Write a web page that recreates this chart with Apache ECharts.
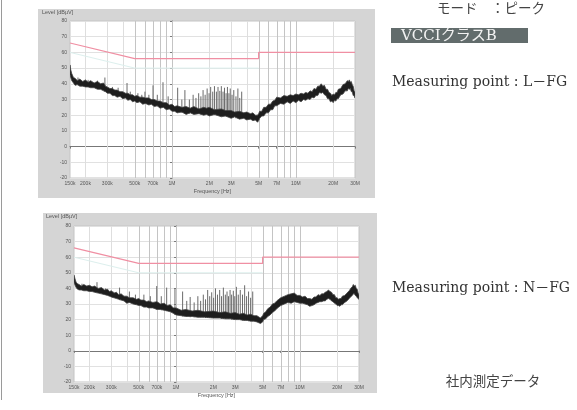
<!DOCTYPE html>
<html><head><meta charset="utf-8">
<script src="https://cdn.jsdelivr.net/npm/echarts@6/dist/echarts.min.js"></script>
<style>html,body{margin:0;padding:0;background:#fff}#c{width:577px;height:410px}</style>
</head><body><div id="c"></div><script>
// Frequencies in MHz, levels in dBµV
const tickFreqs = [0.15,0.2,0.3,0.5,0.7,1,2,3,5,7,10,20,30];
const tickLabels = ['150k','200k','300k','500k','700k','1M','2M','3M','5M','7M','10M','20M','30M'];
const gridFreqsLight = [0.2,0.3,0.4,2,3,4,20];
const gridFreqsDark = [0.5,0.6,0.7,0.8,0.9,1,5,6,7,8,9,10];
const levelMin = -20, levelMax = 80, levelStep = 10;

const limitFreqs = [0.15,0.5,5,5,30];
const limitLevels = [66,56,56,60,60];
const marginFreqs = [0.15,0.5,5];
const marginLevels = [60,50,50];

// Chart 1: L-FG (noise band envelope)
const bandFreq1 = [0.150,0.152,0.155,0.160,0.165,0.172,0.18,0.19,0.20,0.21,
0.22,0.235,0.25,0.265,0.28,0.29,0.30,0.315,0.33,0.345,
0.36,0.38,0.40,0.42,0.44,0.46,0.48,0.50,0.52,0.55,
0.58,0.61,0.65,0.68,0.72,0.76,0.80,0.85,0.90,0.95,
1.0,1.05,1.1,1.2,1.3,1.4,1.5,1.65,1.8,1.9,
2.0,2.2,2.5,2.7,3.0,3.2,3.5,3.8,4.0,4.3,
4.5,4.7,4.9,5.0,5.1,5.3,5.5,5.75,6.0,6.25,
6.5,6.75,7.0,7.5,8.0,8.5,9.0,9.5,10,10.5,
11,11.5,12,12.5,13,13.5,14,14.5,15,15.5,
16,16.5,17,17.5,18,18.5,19,19.5,20,20.5,
21,21.5,22,23,24,25,26,26.5,27,27.5,
28,28.5,29,29.5,30];
const bandHigh1 = [52,49,46.5,44,43.5,42,43,41.5,42.5,41,
42,40.5,41.5,40,40.5,38.5,38,37,37,36,
36,35,35,34,34,33,33,32,32.5,31.5,
31.5,31,31,30,30,29,29,28,28,26.5,
27,25.5,26,25,25.5,24.5,25.5,24,25,24.5,
25,23.5,24,23,23,22,22.5,21.5,22,21,
21.5,20,20,21,22.5,22.5,25,25,27,27,
29,29.5,31.5,31,32.5,32,33,32.5,33.5,33,
34,33.5,34.5,34,35.5,35,37,36.5,38.5,38.5,
40,38.5,39,36.5,36.5,34.5,34,32.5,33.5,33,
34.5,34.5,36.5,37,39.5,40,42,41.5,42.5,41,
41.5,39.5,38.5,35.5,34.5];
const bandLow1 = [46,44,42,40.5,39,39.5,38.5,38.5,38,38,
37.5,37.5,36.5,36.5,35.5,35,34,34,32.5,32.5,
31.5,32,30.5,31,29.5,30,28.5,29,28,28.5,
27,27.5,26.5,27,25.5,26,24.5,25,23.5,24,
22.5,22.5,21.5,22,20.5,21.5,20.5,21,20,20.5,
19.5,20.5,19,19.5,18,19,17.5,18,17,17.5,
16.5,17,15.5,16.5,18,19.5,19.5,21.5,21.5,23.5,
23.5,26,26,27.5,27,28.5,27.5,29,28,29.5,
28.5,30,29.5,30.5,30,31.5,31,32.5,32.5,34.5,
34,34.5,33,32.5,30.5,30.5,28.5,29,28,29.5,
29,30.5,30.5,33,33.5,35.5,35.5,37,36.5,37,
35,35,32.5,32.5,31];
// Chart 1 spikes (peak and base level)
const spikeFreq1 = [0.174,0.21,0.25,0.287,0.33,0.367,0.433,0.46,0.53,0.57,0.604,0.65,0.702,0.76,0.845,0.93,1.11,1.2,1.27,1.38,1.48,1.56,1.64,1.71,1.78,1.85,1.92,1.99,2.05,2.13,2.2,2.28,2.35,2.43,2.5,2.58,2.65,2.73,2.8,2.88,2.95,3.05,3.15,3.28,3.4,3.52,3.65];
const spikePeak1 = [44,42.5,42,44,38,37.5,40.5,35,34,33,35,33,39,33,41,32,37.5,30,36,30,33,31,34,32,36,33,37,34,38,35,38.5,35,38,35.5,38.5,35,37.5,34,38,34,37,33,36,32,37,31,35];
const spikeBase1 = [39,38,37,35,33,32,30.5,30,28.5,28,27.5,27,26.5,25.5,25,24,21.5,21.5,21,21,21,21,21,20.5,20.5,20.5,20.5,20,20,20,20,20,20,19.5,19.5,19.5,19.5,19,19,19,18.5,18.5,18.5,18,18,18,18];

// Chart 2: N-FG
const bandFreq2 = [0.150,0.153,0.156,0.160,0.165,0.172,0.18,0.19,0.20,0.21,
0.22,0.235,0.25,0.265,0.28,0.29,0.30,0.315,0.33,0.345,
0.36,0.38,0.40,0.42,0.45,0.48,0.50,0.52,0.55,0.58,
0.60,0.65,0.70,0.75,0.80,0.85,0.90,0.95,1.0,1.1,
1.2,1.35,1.5,1.7,2.0,2.25,2.5,2.75,3.0,3.25,
3.5,3.75,4.0,4.25,4.5,4.8,5.0,5.1,5.3,5.5,
5.75,6.0,6.25,6.5,6.75,7.0,7.5,8.0,8.5,9.0,
9.5,10,10.5,11,11.5,12,12.5,13,13.5,14,
14.5,15,15.5,16,16.5,17,17.5,18,18.5,19,
19.5,20,20.5,21,21.5,22,23,24,25,26,
26.5,27,27.5,28,28.5,29,29.5,30];
const bandHigh2 = [48.5,46,44,43,42.5,41.5,42.5,41.5,42,41,
41.5,40,40.5,39,39.5,38,38.5,37,37.5,36,
36.5,35,35,34,34,33,33.5,32.5,32.5,31.5,
32,31,31.5,30,30.5,29,29.5,27.5,27.5,26,
26.5,25.5,26,25,25.5,24.5,25,24,24.5,23.5,
24,23,23.5,22.5,22.5,21,22.5,24,25,27,
28,30,30.5,32,33,34,35,36,36.5,37,
35.5,35.5,34.5,35,33.5,33.5,33,34.5,34.5,36,
35.5,36.5,36.5,37.5,38,39,38,37.5,36,36,
34,34,33,33.5,33.5,35,35.5,37,38.5,40.5,
41,42.5,41.5,42,40,39.5,37,36];
const bandLow2 = [44,42,40.5,39.5,39,39,38.5,38.5,38,38,
37.5,37,36.5,36,35.5,35,34.5,34,33.5,33,
32.5,32,30.5,31,30,29.5,29,29,28,28,
27.5,27.5,26.5,26.5,26,25.5,25,24,23,22.5,
22,22,21.5,21.5,21,21,20.5,20.5,20,20,
19.5,19.5,19,19,18.5,17.5,18.5,20,20.5,22,
23,24.5,25.5,27,28,29,30,31,30.5,31.5,
31,30.5,30.5,30,29.5,28.5,29,29.5,30.5,31,
31.5,31.5,32,32,33,33.5,33,32,31.5,30.5,
30,29,29,28.5,29.5,29.5,31,32,33.5,35,
35.5,36.5,36.5,35.5,35,34,33.5,33];
const spikeFreq2 = [0.174,0.23,0.27,0.31,0.35,0.42,0.47,0.55,0.62,0.698,0.76,0.84,0.98,1.13,1.22,1.30,1.40,1.50,1.58,1.66,1.73,1.80,1.87,1.94,2.01,2.08,2.16,2.25,2.33,2.41,2.5,2.58,2.65,2.73,2.81,2.9,2.98,3.07,3.18,3.3,3.44,3.58,3.71,3.85,4.0,4.16];
const spikePeak2 = [43,44,40,38,40.5,38,36,36,35,41.5,35,40.5,40,38,32,34.5,31,35,32,36,33,39,35,37.5,34,40,36,39,35,40.5,36,38,35,39,36,38.5,35,41,36,39,36,42,35,38,34,38];
const spikeBase2 = [39,37.5,36,34,32.5,31,29.5,28,27.5,26.5,26,25.5,23,22,22,21.5,21.5,21.5,21.5,21.5,21,21,21,21,21,21,21,21,20.5,20.5,20.5,20.5,20.5,20.5,20,20,20,20,20,20,19.5,19.5,19.5,19,19,19];

const L = Math.log10;
const tickLog = tickFreqs.map(L);
function fmtX(v){ for(let i=0;i<tickLog.length;i++){ if(Math.abs(tickLog[i]-v)<1e-6) return tickLabels[i]; } return ''; }

function xAxisOpt(idx){
  return {type:'value', gridIndex:idx, min:L(0.15), max:L(30),
    name:'Frequency [Hz]', nameLocation:'middle', nameGap:10,
    nameTextStyle:{fontSize:5.5, color:'#555', fontFamily:'Liberation Sans'},
    axisLine:{show:true, lineStyle:{color:'#777', width:1}},
    axisTick:{show:true, length:2, customValues:tickLog, lineStyle:{color:'#777'}},
    axisLabel:{show:true, customValues:tickLog, formatter:fmtX, fontSize:5, margin:3, color:'#555', fontFamily:'Liberation Sans'},
    splitLine:{show:false}};
}
function yAxisOpt(idx){
  return {type:'value', gridIndex:idx, min:levelMin, max:levelMax, interval:levelStep,
    axisLine:{show:true, lineStyle:{color:'#777', width:1}},
    axisTick:{show:true, length:2, lineStyle:{color:'#777'}},
    axisLabel:{fontSize:5, margin:3, color:'#555', fontFamily:'Liberation Sans'},
    splitLine:{show:true, lineStyle:{color:'#e1e1e1', width:1}}};
}
function vGridSeries(idx, freqs, color){
  return {type:'custom', xAxisIndex:idx, yAxisIndex:idx, z:1, silent:true,
    data: freqs.map(f=>[L(f)]),
    renderItem:(params, api)=>{
      const a=api.coord([api.value(0), levelMax]);
      const b=api.coord([api.value(0), levelMin]);
      const x=Math.round(a[0])+0.5;
      return {type:'line', shape:{x1:x,y1:a[1],x2:x,y2:b[1]}, style:{stroke:color, lineWidth:1}};
    }};
}
function marginSeries(idx){
  return {type:'line', xAxisIndex:idx, yAxisIndex:idx, z:1, silent:true, symbol:'none',
    data: marginFreqs.map((f,i)=>[L(f), marginLevels[i]]),
    lineStyle:{color:'#dcefed', width:1}};
}
function limitSeries(idx){
  return {type:'line', xAxisIndex:idx, yAxisIndex:idx, z:4, silent:true, symbol:'none',
    data: limitFreqs.map((f,i)=>[L(f), limitLevels[i]]),
    lineStyle:{color:'#f08fa3', width:1.2}};
}
function bandSeries(idx, freqs, hi, lo){
  return {type:'custom', xAxisIndex:idx, yAxisIndex:idx, z:3, silent:true, clip:true,
    data:[[L(freqs[0]), hi[0]]],
    renderItem:(params, api)=>{
      const pts=[];
      for(let i=0;i<freqs.length;i++) pts.push(api.coord([L(freqs[i]), hi[i]]));
      for(let i=freqs.length-1;i>=0;i--) pts.push(api.coord([L(freqs[i]), lo[i]]));
      return {type:'polygon', shape:{points:pts}, style:{fill:'#1e1e1e', stroke:'#444', lineWidth:0.8}};
    }};
}
function spikeSeries(idx, f, p, b){
  return {type:'custom', xAxisIndex:idx, yAxisIndex:idx, z:2, silent:true, clip:true,
    data: f.map((v,i)=>[L(v), p[i], b[i]]),
    renderItem:(params, api)=>{
      const t=api.coord([api.value(0), api.value(1)]);
      const bt=api.coord([api.value(0), api.value(2)]);
      return {type:'line', shape:{x1:t[0],y1:t[1],x2:bt[0],y2:bt[1]}, style:{stroke:'#6a6a6a', lineWidth:1}};
    }};
}

const serif = "'DejaVu Serif','Liberation Serif','Noto Sans CJK JP',serif";
const chart = echarts.init(document.getElementById('c'), null, {renderer:'canvas'});
const series = [];
[[0,bandFreq1,bandHigh1,bandLow1,spikeFreq1,spikePeak1,spikeBase1],[1,bandFreq2,bandHigh2,bandLow2,spikeFreq2,spikePeak2,spikeBase2]].forEach(c=>{
  series.push(vGridSeries(c[0], gridFreqsLight, '#dedede'));
  series.push(vGridSeries(c[0], gridFreqsDark, '#c4c4c4'));
  series.push(marginSeries(c[0]));
  series.push(spikeSeries(c[0], c[4], c[5], c[6]));
  series.push(bandSeries(c[0], c[1], c[2], c[3]));
  series.push(limitSeries(c[0]));
});
chart.setOption({
  animation:false,
  backgroundColor:'#fff',
  grid:[
    {left:70, top:21, width:285, height:157},
    {left:74, top:226, width:285, height:156}
  ],
  xAxis:[xAxisOpt(0), xAxisOpt(1)],
  yAxis:[yAxisOpt(0), yAxisOpt(1)],
  series: series,
  graphic:[
    {type:'line', z:-20, shape:{x1:1.5,y1:0,x2:1.5,y2:400}, style:{stroke:'#9a9a9a', lineWidth:1}},
    {type:'rect', z:-20, shape:{x:38,y:9,width:337,height:189}, style:{fill:'#d5d5d5'}},
    {type:'rect', z:-19, shape:{x:70,y:21,width:285,height:157}, style:{fill:'#ffffff', stroke:'#c4c4c4', lineWidth:1}},
    {type:'rect', z:-20, shape:{x:43,y:213,width:334,height:180}, style:{fill:'#d5d5d5'}},
    {type:'rect', z:-19, shape:{x:74,y:226,width:285,height:156}, style:{fill:'#ffffff', stroke:'#c4c4c4', lineWidth:1}},
    {type:'text', x:42, y:12, style:{text:'Level [dBµV]', fill:'#555', font:"5.5px 'Liberation Sans'", verticalAlign:'middle'}},
    {type:'text', x:46, y:216, style:{text:'Level [dBµV]', fill:'#555', font:"5.5px 'Liberation Sans'", verticalAlign:'middle'}},
    {type:'text', x:437, y:8, style:{text:'モード　：ピーク', font:"13.5px 'Noto Sans CJK JP'", fill:'#444', align:'left', verticalAlign:'middle'}},
    {type:'rect', shape:{x:391,y:28,width:137,height:15}, style:{fill:'#626c6c'}},
    {type:'text', x:401, y:36, style:{text:'VCCIクラスB', font:"15px "+serif, fill:'#f2f2f2', align:'left', verticalAlign:'middle'}},
    {type:'text', x:392, y:82, style:{text:'Measuring point : L－FG', font:"14px "+serif, fill:'#333', align:'left', verticalAlign:'middle'}},
    {type:'text', x:392, y:288, style:{text:'Measuring point : N－FG', font:"14px "+serif, fill:'#333', align:'left', verticalAlign:'middle'}},
    {type:'text', x:493, y:381, style:{text:'社内測定データ', font:"13.5px 'Noto Sans CJK JP'", fill:'#444', align:'center', verticalAlign:'middle'}}
  ]
});
</script></body></html>
